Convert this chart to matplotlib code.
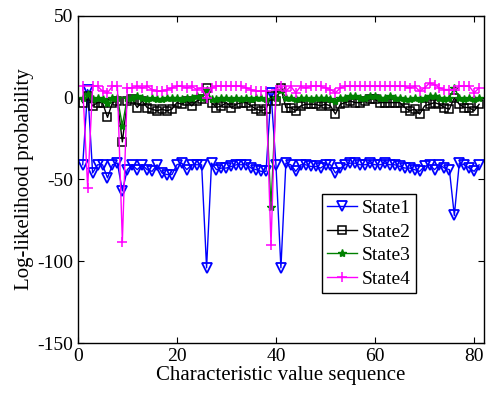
import numpy as np
import matplotlib
matplotlib.use("Agg")
import matplotlib.pyplot as plt

plt.rcParams['font.family'] = ['Liberation Serif', 'DejaVu Serif']
plt.rcParams['axes.unicode_minus'] = False

# sequence index
seq = np.arange(1, 82)

state1 = [-41, 5, -46, -41, -41, -49, -41, -40, -57, -44,
          -41, -44, -41, -44, -45, -41, -46, -47, -47, -41,
          -40, -44, -41, -41, -41, -104, -40, -44, -43, -43,
          -42, -41, -41, -41, -43, -44, -45, -45, 3, -41,
          -104, -40, -41, -45, -41, -41, -42, -42, -43, -41,
          -41, -46, -43, -41, -40, -40, -41, -41, -40, -41,
          -41, -40, -41, -41, -42, -43, -43, -44, -45, -42,
          -41, -44, -41, -43, -44, -72, -40, -41, -43, -45,
          -41]
state2 = [-3, 1, -5, -3, -3, -12, -3, -2, -27, -2,
          -1, -6, -2, -6, -7, -8, -7, -8, -7, -3,
          -4, -2, -5, -2, -1, 6, -3, -6, -5, -3,
          -6, -4, -3, -3, -5, -7, -8, -7, 1, -2,
          6, -6, -6, -8, -5, -4, -4, -4, -5, -4,
          -5, -10, -4, -3, -2, -3, -3, -2, -1, -1,
          -3, -3, -3, -3, -3, -6, -8, -7, -10, -5,
          -4, -3, -4, -6, -7, 0, -4, -6, -6, -8,
          -4]
state3 = [0, 2, -1, 0, -1, -3, 0, 0, -17, 0,
          0, 1, 0, -1, 0, -1, -1, 0, 0, 0,
          -1, 0, 0, 1, 0, 5, -1, -1, 0, 0,
          -1, 0, -1, 0, -1, 0, 0, -1, -67, 0,
          5, 0, 0, -1, 0, 0, -1, 0, 0, 0,
          -1, -2, 0, 0, 1, 1, 0, 0, 1, 1,
          0, 0, 1, 0, 0, -1, -1, 0, -1, 0,
          1, 1, 0, -1, 0, 6, 0, -1, 0, -1,
          0]
state4 = [7, -55, 7, 7, 4, 3, 7, 7, -88, 6,
          6, 7, 6, 7, 5, 4, 4, 5, 6, 7,
          7, 6, 7, 5, 6, 0, 6, 7, 7, 7,
          7, 7, 7, 6, 5, 4, 4, 4, -90, 5,
          7, 4, 7, 3, 7, 6, 7, 7, 7, 6,
          5, 3, 6, 7, 7, 7, 7, 7, 7, 7,
          7, 7, 7, 7, 7, 7, 6, 7, 4, 6,
          9, 8, 6, 5, 5, 5, 7, 7, 7, 3,
          6]

fig = plt.figure(figsize=(4.86, 3.98), dpi=100)
ax = fig.add_axes([0.160, 0.138, 0.836, 0.822])

ax.plot(seq, state1, '-v', color='#0000ff', lw=1, ms=6.5, mfc='none', mew=1.3, label='State1')
ax.plot(seq, state2, '-s', color='#000000', lw=1, ms=5.5, mfc='none', mew=1.1, label='State2')
ax.plot(seq, state3, '-*', color='#008000', lw=1, ms=6, label='State3')
ax.plot(seq, state4, '-+', color='#ff00ff', lw=1, ms=7.5, mew=1.1, label='State4')

ax.set_xlim(0, 82)
ax.set_ylim(-150, 50)
ax.set_xticks([0, 20, 40, 60, 80])
ax.set_yticks([-150, -100, -50, 0, 50])
ax.tick_params(direction='in', top=True, right=True, labelsize=14, length=4)
for sp in ax.spines.values():
    sp.set_linewidth(1.0)

ax.set_xlabel('Characteristic value sequence', fontsize=15, labelpad=1)
ax.set_ylabel('Log-likelihood probability', fontsize=15, labelpad=2)

leg = ax.legend(loc='lower left', bbox_to_anchor=(0.600, 0.152), fontsize=14,
                fancybox=False, framealpha=1, edgecolor='black',
                handlelength=1.5, handletextpad=0.25, borderpad=0.3,
                labelspacing=0.30, borderaxespad=0)
leg.get_frame().set_linewidth(1.0)

fig.savefig('out.png', dpi=100)
